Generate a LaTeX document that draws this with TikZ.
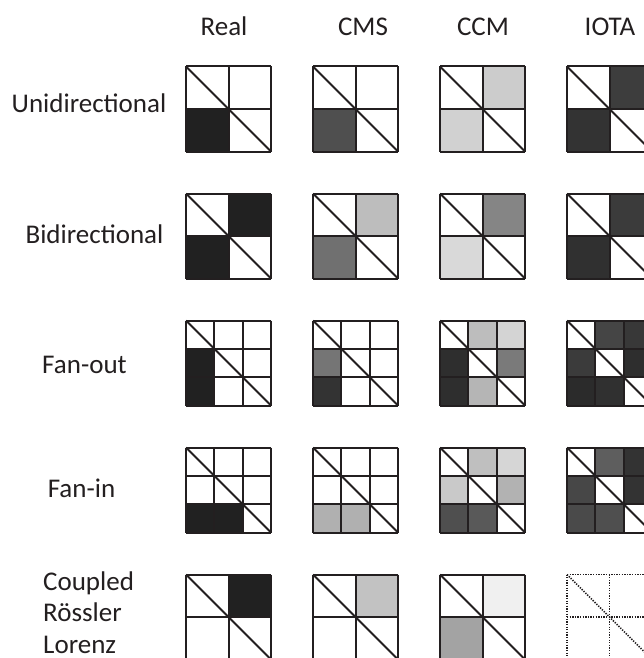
\documentclass[tikz,border=0pt]{standalone}
\usepackage{fontspec}
\setmainfont{Carlito}
\usepackage{tikz}

\definecolor{inkgray}{RGB}{35,31,32}

\tikzset{
  lbl/.style={font=\fontsize{27}{32}\selectfont, text=inkgray, inner sep=0pt},
  cellline/.style={line width=2pt, draw=inkgray},
  faintline/.style={line width=1.6pt, draw=inkgray, dash pattern=on 1.3pt off 1.3pt}
}

\begin{document}
\begin{tikzpicture}[x=1pt,y=-1pt]
  \clip (0,0) rectangle (644,658);
  \fill[white] (0,0) rectangle (644,658);

  % column headings
  \node[lbl,anchor=base] (real) at (224,36) {Real};
  \node[lbl,anchor=base] (cms)  at (363,36) {CMS};
  \node[lbl,anchor=base] (ccm)  at (483,36) {CCM};
  \node[lbl,anchor=base] (iota) at (610,36) {IOTA};

  % row labels
  \node[lbl,anchor=base] (unidir) at (89,113) {Unidirectional};
  \node[lbl,anchor=base] (bidir)  at (94.5,243) {Bidirectional};
  \node[lbl,anchor=base] (fanout) at (84.5,373) {Fan-out};
  \node[lbl,anchor=base] (fanin)  at (81.5,497) {Fan-in};
  \node[lbl,anchor=base west] (coupled)  at (43,590) {Coupled};
  \node[lbl,anchor=base west] (roessler) at (43,621.5) {Rössler};
  \node[lbl,anchor=base west] (lorenz)   at (43,653) {Lorenz};

  % shaded cells: column/row/cell column/cell row/percent black
  \foreach \c/\r/\i/\j/\g in {
      0/0/0/1/87, 1/0/0/1/69, 2/0/1/0/20, 2/0/0/1/18, 3/0/1/0/76, 3/0/0/1/80,
      0/1/1/0/87, 0/1/0/1/87, 1/1/1/0/26, 1/1/0/1/56, 2/1/1/0/48, 2/1/0/1/15,
      3/1/1/0/77, 3/1/0/1/81,
      0/2/0/1/87, 0/2/0/2/87, 1/2/0/1/54, 1/2/0/2/80,
      2/2/1/0/26, 2/2/2/0/17, 2/2/0/1/82, 2/2/2/1/52, 2/2/0/2/82, 2/2/1/2/29,
      3/2/1/0/73, 3/2/2/0/78, 3/2/0/1/77, 3/2/2/1/82, 3/2/0/2/83, 3/2/1/2/81,
      0/3/0/2/87, 0/3/1/2/87, 1/3/0/2/31, 1/3/1/2/31,
      2/3/1/0/25, 2/3/2/0/16, 2/3/0/1/21, 2/3/2/1/30, 2/3/0/2/69, 2/3/1/2/65,
      3/3/1/0/63, 3/3/2/0/80, 3/3/0/1/72, 3/3/2/1/80, 3/3/0/2/71, 3/3/1/2/69,
      0/4/1/0/87, 1/4/1/0/24, 2/4/1/0/6, 2/4/0/1/36} {
    \pgfmathsetmacro{\x}{186+127*\c}
    \pgfmathsetmacro{\y}{66.5+127*\r}
    \pgfmathtruncatemacro{\n}{(\r==2 || \r==3) ? 3 : 2}
    \pgfmathsetmacro{\d}{85/\n}
    \fill[black!\g] (\x+\i*\d,\y+\j*\d) rectangle (\x+\i*\d+\d,\y+\j*\d+\d);
  }

  % grids with the diagonal
  \foreach \c in {0,...,3} {
    \foreach \r in {0,...,4} {
      \pgfmathsetmacro{\x}{186+127*\c}
      \pgfmathsetmacro{\y}{66.5+127*\r}
      \pgfmathtruncatemacro{\n}{(\r==2 || \r==3) ? 3 : 2}
      \pgfmathsetmacro{\d}{85/\n}
      \pgfmathtruncatemacro{\isfaint}{(\c==3 && \r==4)}
      \ifnum\isfaint=1
        \tikzset{gridline/.style={faintline}}
      \else
        \tikzset{gridline/.style={cellline}}
      \fi
      \foreach \k in {0,...,\n} {
        \draw[gridline] (\x+\k*\d,\y) -- (\x+\k*\d,\y+85);
        \draw[gridline] (\x,\y+\k*\d) -- (\x+85,\y+\k*\d);
      }
      \draw[gridline] (\x,\y) -- (\x+85,\y+85);
    }
  }
\end{tikzpicture}
\end{document}
